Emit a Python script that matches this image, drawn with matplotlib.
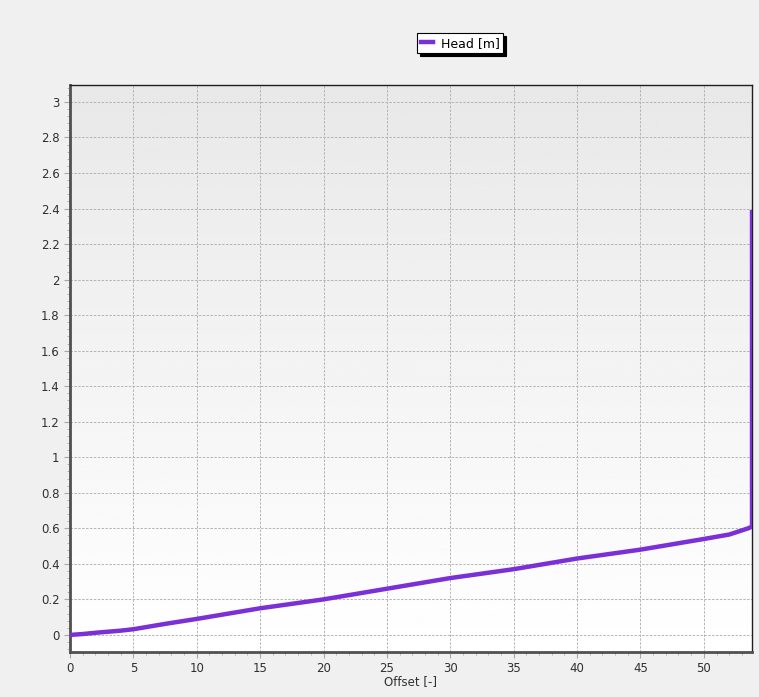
import numpy as np
import matplotlib.pyplot as plt
from matplotlib.ticker import MultipleLocator

# Head profile along offset
offset = [0, 1, 2, 3, 4, 5, 7.5, 10, 12.5, 15, 17.5, 20, 22.5, 25, 27.5, 30,
          32.5, 35, 37.5, 40, 42.5, 45, 47.5, 50, 52, 53.5, 53.8, 53.8]
head = [0.0, 0.005, 0.012, 0.018, 0.024, 0.032, 0.062, 0.09, 0.12, 0.15, 0.175,
        0.2, 0.23, 0.26, 0.29, 0.32, 0.345, 0.37, 0.4, 0.43, 0.455, 0.48, 0.51,
        0.54, 0.565, 0.6, 0.61, 2.38]

fig = plt.figure(figsize=(7.59, 6.97), dpi=100, facecolor='#f0f0f0')
ax = fig.add_axes([0.0922, 0.0646, 0.8986, 0.8134])

xmin, xmax = 0, 53.8
ymin, ymax = -0.096, 3.095

# background gradient, grey at top to white at bottom
grad = np.linspace(0.91, 1.0, 256).reshape(-1, 1)
ax.imshow(grad, cmap='gray', vmin=0, vmax=1, aspect='auto', origin='upper',
          extent=[xmin, xmax, ymin, ymax], zorder=0)

ax.plot(offset, head, color='#7b2fd6', lw=3.2, label='Head [m]', zorder=3,
        solid_joinstyle='round')

ax.set_xlim(xmin, xmax)
ax.set_ylim(ymin, ymax)
ax.xaxis.set_major_locator(MultipleLocator(5))
ax.xaxis.set_minor_locator(MultipleLocator(1))
ax.yaxis.set_major_locator(MultipleLocator(0.2))
ax.yaxis.set_minor_locator(MultipleLocator(0.04))
ax.yaxis.set_major_formatter(plt.FuncFormatter(lambda v, p: f'{v:g}'))

ax.grid(True, which='major', color='#b4b4b4', ls=(0, (2.5, 1.5)), lw=0.7, zorder=1)
ax.set_axisbelow(True)

ax.tick_params(which='both', direction='out', colors='#a8a8a8', labelcolor='#303030',
               labelsize=8.5)
ax.tick_params(which='major', length=4)
ax.tick_params(which='minor', length=2)
for s in ['left', 'bottom']:
    ax.spines[s].set_color('#505050')
    ax.spines[s].set_linewidth(2)
for s in ['right', 'top']:
    ax.spines[s].set_color('#202020')
    ax.spines[s].set_linewidth(1)

ax.set_xlabel('Offset [-]', fontsize=8.5, color='#303030', labelpad=0)

leg = fig.legend(loc='center', bbox_to_anchor=(0.606, 0.938), fontsize=9,
                 frameon=True, fancybox=False, shadow={'color': 'black', 'alpha': 1},
                 handlelength=1.0, borderpad=0.3, handletextpad=0.6, borderaxespad=0)
leg.get_frame().set_edgecolor('black')
leg.get_frame().set_linewidth(0.8)

fig.savefig('out.png', dpi=100, facecolor=fig.get_facecolor())
